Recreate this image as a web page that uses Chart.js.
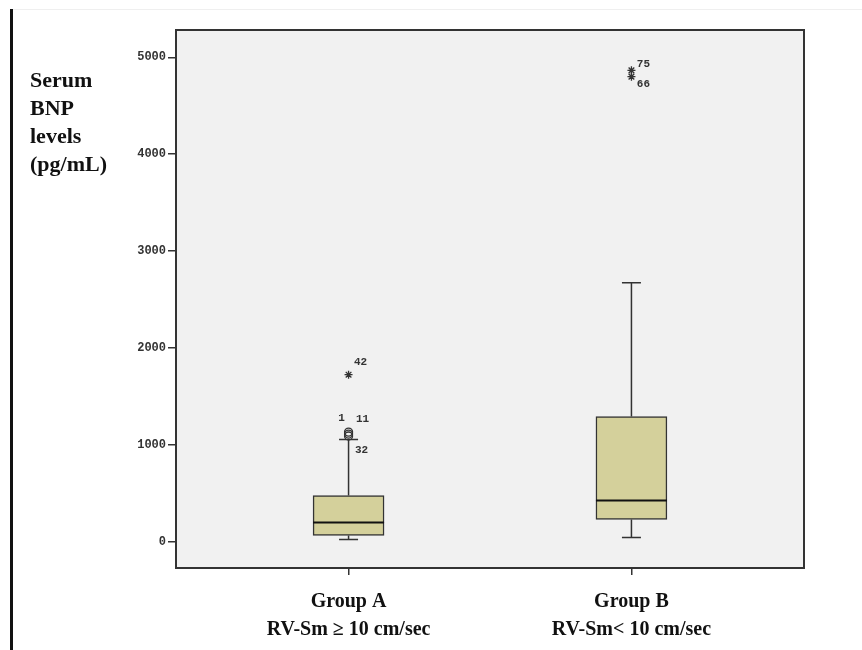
<!DOCTYPE html>
<html>
<head>
<meta charset="utf-8">
<script src="https://cdn.jsdelivr.net/npm/chart.js@4"></script>
<style>
  body { margin: 0; background: #fff; }
  #wrap { position: relative; width: 862px; height: 650px; }
  #edge { position: absolute; left: 10px; top: 9px; width: 3px; height: 641px; background: #111; }
  #topline { position: absolute; left: 13px; top: 9px; width: 849px; height: 1px; background: #efefef; }
  canvas { position: absolute; left: 0; top: 0; }
</style>
</head>
<body>
<div id="wrap">
  <div id="topline"></div>
  <div id="edge"></div>
  <canvas id="bnp-chart" width="862" height="650"></canvas>
</div>
<script>
// 分组与箱线图数据 (pg/mL)
const groups = [['Group A', 'RV-Sm \u2265 10 cm/sec'], ['Group B', 'RV-Sm< 10 cm/sec']];
const whiskerLow = [28, 48];
const q1 = [69, 234];
const median = [203, 430];
const q3 = [481, 1295];
const whiskerHigh = [1058, 2675];

// 离群值
const outlierGroup = [0, 0, 0, 0, 1, 1];
const outlierValues = [1135, 1115, 1095, 1727, 4865, 4800];
const outlierIds = ['1', '11', '32', '42', '75', '66'];
const outlierKind = ['circle', 'circle', 'circle', 'star', 'star', 'star'];

// y 轴刻度
const yTicks = [0, 1000, 2000, 3000, 4000, 5000];
const yTitle = ['Serum', 'BNP', 'levels', '(pg/mL)'];

// 标签相对离群点的偏移 (像素)
const labelOffset = {
  '1': [-7, -14], '11': [14, -15], '32': [13, 14],
  '42': [12, -12], '75': [12, -6], '66': [12, 8]
};

const BOX_W = 71;
const CAP_W = 19;

// 绘图区背景与边框
const framePlugin = {
  id: 'frame',
  beforeDraw(chart) {
    const { ctx, chartArea: a } = chart;
    ctx.save();
    ctx.fillStyle = '#f1f1f1';
    ctx.fillRect(a.left, a.top, a.right - a.left, a.bottom - a.top);
    ctx.restore();
  },
  afterDraw(chart) {
    const { ctx, chartArea: a } = chart;
    ctx.save();
    ctx.strokeStyle = '#333';
    ctx.lineWidth = 2;
    ctx.strokeRect(a.left, a.top, a.right - a.left, a.bottom - a.top);
    // y 轴标题
    ctx.fillStyle = '#111';
    ctx.font = 'bold 22px "Liberation Serif", "Times New Roman", serif';
    ctx.textAlign = 'left';
    ctx.textBaseline = 'middle';
    yTitle.forEach((t, i) => ctx.fillText(t, 30, 81 + i * 28));
    ctx.restore();
  }
};

// 须线、中位数、离群值编号
const boxPlugin = {
  id: 'boxparts',
  beforeDatasetsDraw(chart) {
    const { ctx, scales: { x, y } } = chart;
    ctx.save();
    ctx.strokeStyle = '#333';
    ctx.lineWidth = 1.5;
    groups.forEach((g, i) => {
      const cx = x.getPixelForValue(i);
      ctx.beginPath();
      ctx.moveTo(cx, y.getPixelForValue(q3[i]));
      ctx.lineTo(cx, y.getPixelForValue(whiskerHigh[i]));
      ctx.moveTo(cx, y.getPixelForValue(q1[i]));
      ctx.lineTo(cx, y.getPixelForValue(whiskerLow[i]));
      [whiskerHigh[i], whiskerLow[i]].forEach(v => {
        const py = y.getPixelForValue(v);
        ctx.moveTo(cx - CAP_W / 2, py);
        ctx.lineTo(cx + CAP_W / 2, py);
      });
      ctx.stroke();
    });
    ctx.restore();
  },
  afterDatasetsDraw(chart) {
    const { ctx, scales: { x, y } } = chart;
    ctx.save();
    ctx.strokeStyle = '#111';
    ctx.lineWidth = 2;
    groups.forEach((g, i) => {
      const cx = x.getPixelForValue(i);
      const py = y.getPixelForValue(median[i]);
      ctx.beginPath();
      ctx.moveTo(cx - BOX_W / 2, py);
      ctx.lineTo(cx + BOX_W / 2, py);
      ctx.stroke();
    });
    ctx.fillStyle = '#333';
    ctx.font = 'bold 11px "Liberation Mono", "DejaVu Sans Mono", monospace';
    ctx.textAlign = 'center';
    ctx.textBaseline = 'middle';
    outlierIds.forEach((id, i) => {
      const px = x.getPixelForValue(outlierGroup[i]);
      const py = y.getPixelForValue(outlierValues[i]);
      const off = labelOffset[id];
      ctx.fillText(id, px + off[0], py + off[1]);
    });
    ctx.restore();
  }
};

const ctx = document.getElementById('bnp-chart').getContext('2d');
new Chart(ctx, {
  type: 'bar',
  data: {
    datasets: [{
      label: 'IQR',
      data: groups.map((g, i) => ({ x: i, y: [q1[i], q3[i]] })),
      backgroundColor: '#d4d09b',
      borderColor: '#333',
      borderWidth: 1.5,
      borderSkipped: false,
      barThickness: BOX_W
    }, {
      type: 'line',
      label: 'outliers',
      data: outlierValues.map((v, i) => ({ x: outlierGroup[i], y: v })),
      showLine: false,
      pointStyle: outlierKind,
      pointRadius: 4,
      pointBorderWidth: 1.3,
      pointBorderColor: '#333',
      pointBackgroundColor: 'rgba(0,0,0,0)'
    }]
  },
  options: {
    responsive: false,
    animation: false,
    layout: { padding: { left: 116, top: 30, right: 58, bottom: 0 } },
    plugins: {
      legend: { display: false },
      tooltip: { enabled: false }
    },
    scales: {
      x: {
        type: 'linear',
        min: -0.61,
        max: 1.61,
        offset: false,
        afterFit(scale) { scale.height = 82; },
        afterBuildTicks(scale) { scale.ticks = groups.map((g, i) => ({ value: i })); },
        grid: { offset: false, drawOnChartArea: false, tickLength: 7, color: '#333', lineWidth: 1.5 },
        border: { display: true, color: '#333', width: 2 },
        ticks: {
          autoSkip: false,
          maxRotation: 0,
          padding: 13,
          color: '#111',
          font: { family: '"Liberation Serif", "Times New Roman", serif', size: 20, weight: 'bold', lineHeight: 1.4 },
          callback: (v) => groups[v]
        }
      },
      y: {
        min: -266,
        max: 5281,
        afterFit(scale) { scale.width = 60; },
        afterBuildTicks(scale) { scale.ticks = yTicks.map(v => ({ value: v })); },
        grid: { drawOnChartArea: false, tickLength: 8, color: '#333', lineWidth: 1.5 },
        border: { display: true, color: '#333', width: 2 },
        ticks: {
          padding: 2,
          color: '#333',
          font: { family: '"Liberation Mono", "DejaVu Sans Mono", monospace', size: 12, weight: 'bold' },
          callback: (v) => String(v)
        }
      }
    }
  },
  plugins: [framePlugin, boxPlugin]
});
</script>
</body>
</html>
